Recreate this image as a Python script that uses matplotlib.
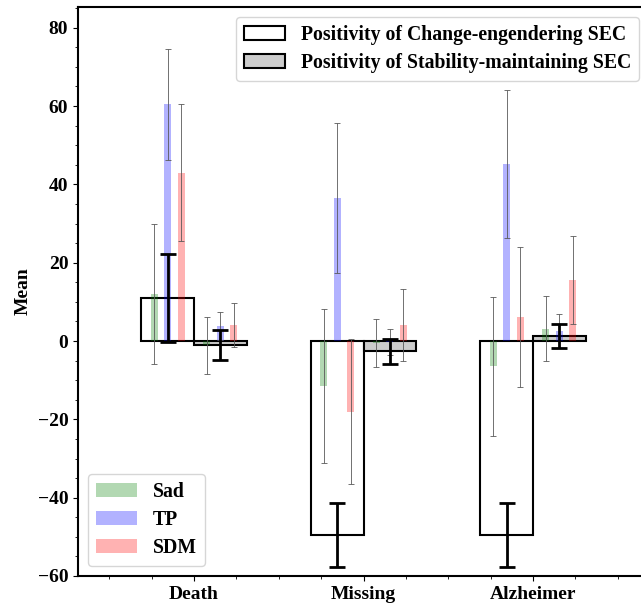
import numpy as np
import matplotlib
matplotlib.use("Agg")
import matplotlib.pyplot as plt
from matplotlib.ticker import AutoMinorLocator

plt.rcParams['font.family'] = ['Liberation Serif', 'DejaVu Serif']
plt.rcParams['font.weight'] = 'bold'
plt.rcParams['axes.labelweight'] = 'bold'

categories = ['Death', 'Missing', 'Alzheimer']
emotions = ['Sad', 'TP', 'SDM']
emo_colors = ['green', 'blue', 'red']

# positivity of the two SEC types (mean, error)
change_mean = [10.9, -49.5, -49.5]
change_err = [11.2, 8.2, 8.2]
stable_mean = [-1.0, -2.6, 1.3]
stable_err = [3.9, 3.2, 3.0]

# per-emotion values inside each SEC bar, rows = Sad, TP, SDM
change_emo_mean = [[12.0, -11.5, -6.5],
                   [60.5, 36.5, 45.2],
                   [43.0, -18.1, 6.1]]
change_emo_err = [[17.8, 19.6, 17.7],
                  [14.2, 19.2, 19.0],
                  [17.5, 18.5, 17.9]]
stable_emo_mean = [[-1.1, -0.6, 3.2],
                   [3.8, -0.2, 2.6],
                   [4.0, 4.1, 15.6]]
stable_emo_err = [[7.2, 6.1, 8.2],
                  [3.5, 3.3, 4.3],
                  [5.6, 9.1, 11.3]]

x = np.arange(len(categories))
w = 0.31
sw = 0.04
off = [-0.08, 0.0, 0.08]

fig = plt.figure(figsize=(6.41, 6.08), dpi=100)
ax = fig.add_axes([78 / 641, 32 / 608, (649 - 78) / 641, (576 - 7) / 608])

b1 = ax.bar(x - w / 2, change_mean, w, color='white', edgecolor='black',
            linewidth=1.5, zorder=1, label='Positivity of Change-engendering SEC')
b2 = ax.bar(x + w / 2, stable_mean, w, color='#cccccc', edgecolor='black',
            linewidth=1.5, zorder=1, label='Positivity of Stability-maintaining SEC')

handles = []
for i in range(3):
    h = ax.bar(x - w / 2 + off[i], change_emo_mean[i], sw, color=emo_colors[i],
               alpha=0.3, zorder=2, label=emotions[i])
    ax.errorbar(x - w / 2 + off[i], change_emo_mean[i], yerr=change_emo_err[i],
                fmt='none', ecolor='0.35', elinewidth=0.6, capsize=2.5,
                capthick=0.6, zorder=3)
    ax.bar(x + w / 2 + off[i], stable_emo_mean[i], sw, color=emo_colors[i],
           alpha=0.3, zorder=2)
    ax.errorbar(x + w / 2 + off[i], stable_emo_mean[i], yerr=stable_emo_err[i],
                fmt='none', ecolor='0.35', elinewidth=0.6, capsize=2.5,
                capthick=0.6, zorder=3)
    handles.append(h)

ax.errorbar(x - w / 2, change_mean, yerr=change_err, fmt='none', ecolor='black',
            elinewidth=2, capsize=6, capthick=2, zorder=4)
ax.errorbar(x + w / 2, stable_mean, yerr=stable_err, fmt='none', ecolor='black',
            elinewidth=2, capsize=6, capthick=2, zorder=4)

ax.set_xlim(-0.684, 2.684)
ax.set_ylim(-60, 85.3)
ax.set_xticks(x)
ax.set_xticklabels(categories, fontsize=14, fontweight='bold')
ax.set_yticks(np.arange(-60, 81, 20))
ax.tick_params(axis='y', labelsize=14)
ax.xaxis.set_minor_locator(AutoMinorLocator(4))
ax.yaxis.set_minor_locator(AutoMinorLocator(4))
ax.set_ylabel('Mean', fontsize=14, fontweight='bold')
for s in ax.spines.values():
    s.set_linewidth(1.5)

leg1 = ax.legend(handles=[b1, b2], loc='upper right', handlelength=2.1,
                 labelspacing=0.42, prop={'size': 14.25, 'weight': 'bold'})
ax.add_artist(leg1)
ax.legend(handles=handles, loc='lower left', handlelength=2.1,
          labelspacing=0.42, prop={'size': 14.25, 'weight': 'bold'})

fig.savefig('out.png', dpi=100)
